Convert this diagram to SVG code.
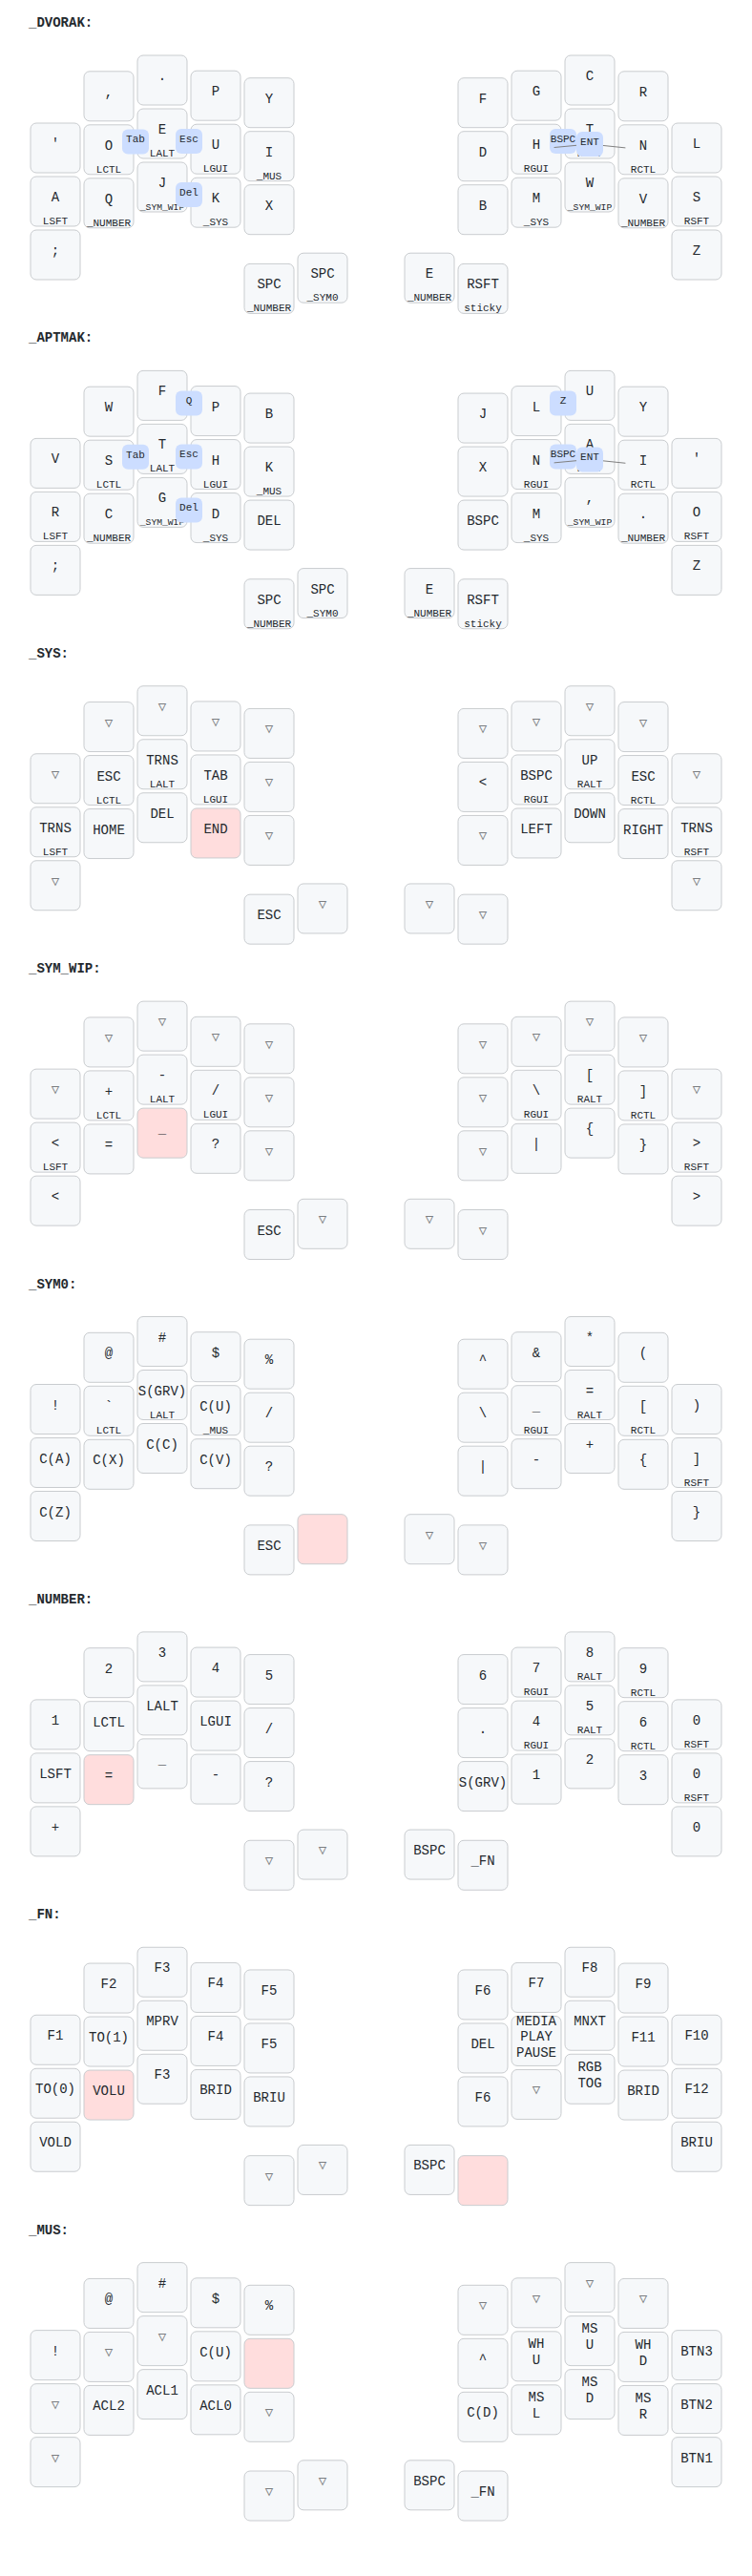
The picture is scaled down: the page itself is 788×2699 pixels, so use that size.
<svg xmlns="http://www.w3.org/2000/svg" xmlns:xlink="http://www.w3.org/1999/xlink" width="788" height="2699" viewBox="0 0 788 2699">
<style>
text{font-family:"Liberation Mono","DejaVu Sans Mono",monospace;font-size:14px;fill:#24292e;text-anchor:middle}
.key{fill:#f6f8fa;stroke:#c9cccf;stroke-width:1}
.held{fill:#fdd}
.h{font-size:11px}
.sh{font-size:9.68px}
.t{fill:#7b7e81}
.cb{fill:#cdf}
.ct{font-size:11px}
.lbl{font-weight:bold;text-anchor:start}
.den{stroke:gray;stroke-width:1;fill:none}
</style>
<defs>
<rect id="k" class="key" width="52" height="52" rx="6" ry="6"/>
<rect id="kh" class="key held" width="52" height="52" rx="6" ry="6"/>
<rect id="cbx" class="cb" width="28" height="26" rx="6" ry="6"/>
</defs>
<rect width="788" height="2699" fill="#fff"/>

<g id="layer-dvorak">
<text class="lbl" x="30" y="28">_DVORAK:</text>
<g id="dv-c0r0"><use href="#k" x="32" y="129"/><text x="58" y="155">'</text></g>
<g id="dv-c0r1"><use href="#k" x="32" y="185"/><text x="58" y="211">A</text><text class="h" x="58" y="235">LSFT</text></g>
<g id="dv-c0r2"><use href="#k" x="32" y="241"/><text x="58" y="267">;</text></g>
<g id="dv-c1r0"><use href="#k" x="88" y="74.8"/><text x="114" y="100.8">,</text></g>
<g id="dv-c1r1"><use href="#k" x="88" y="130.8"/><text x="114" y="156.8">O</text><text class="h" x="114" y="180.8">LCTL</text></g>
<g id="dv-c1r2"><use href="#k" x="88" y="186.8"/><text x="114" y="212.8">Q</text><text class="h" x="114" y="236.8">_NUMBER</text></g>
<g id="dv-c2r0"><use href="#k" x="144" y="58"/><text x="170" y="84">.</text></g>
<g id="dv-c2r1"><use href="#k" x="144" y="114"/><text x="170" y="140">E</text><text class="h" x="170" y="164">LALT</text></g>
<g id="dv-c2r2"><use href="#k" x="144" y="170"/><text x="170" y="196">J</text><text class="h sh" x="170" y="220">_SYM_WIP</text></g>
<g id="dv-c3r0"><use href="#k" x="200" y="74.2"/><text x="226" y="100.2">P</text></g>
<g id="dv-c3r1"><use href="#k" x="200" y="130.2"/><text x="226" y="156.2">U</text><text class="h" x="226" y="180.2">LGUI</text></g>
<g id="dv-c3r2"><use href="#k" x="200" y="186.2"/><text x="226" y="212.2">K</text><text class="h" x="226" y="236.2">_SYS</text></g>
<g id="dv-c4r0"><use href="#k" x="256" y="81.7"/><text x="282" y="107.7">Y</text></g>
<g id="dv-c4r1"><use href="#k" x="256" y="137.7"/><text x="282" y="163.7">I</text><text class="h" x="282" y="187.7">_MUS</text></g>
<g id="dv-c4r2"><use href="#k" x="256" y="193.7"/><text x="282" y="219.7">X</text></g>
<g id="dv-t0"><use href="#k" x="256" y="276.4"/><text x="282" y="302.4">SPC</text><text class="h" x="282" y="326.4">_NUMBER</text></g>
<g id="dv-t1"><use href="#k" x="312" y="265.2"/><text x="338" y="291.2">SPC</text><text class="h" x="338" y="315.2">_SYM0</text></g>
<g id="dv-t2"><use href="#k" x="424" y="265.2"/><text x="450" y="291.2">E</text><text class="h" x="450" y="315.2">_NUMBER</text></g>
<g id="dv-t3"><use href="#k" x="480" y="276.4"/><text x="506" y="302.4">RSFT</text><text class="h" x="506" y="326.4">sticky</text></g>
<g id="dv-c5r0"><use href="#k" x="480" y="81.7"/><text x="506" y="107.7">F</text></g>
<g id="dv-c5r1"><use href="#k" x="480" y="137.7"/><text x="506" y="163.7">D</text></g>
<g id="dv-c5r2"><use href="#k" x="480" y="193.7"/><text x="506" y="219.7">B</text></g>
<g id="dv-c6r0"><use href="#k" x="536" y="74.2"/><text x="562" y="100.2">G</text></g>
<g id="dv-c6r1"><use href="#k" x="536" y="130.2"/><text x="562" y="156.2">H</text><text class="h" x="562" y="180.2">RGUI</text></g>
<g id="dv-c6r2"><use href="#k" x="536" y="186.2"/><text x="562" y="212.2">M</text><text class="h" x="562" y="236.2">_SYS</text></g>
<g id="dv-c7r0"><use href="#k" x="592" y="58"/><text x="618" y="84">C</text></g>
<g id="dv-c7r1"><use href="#k" x="592" y="114"/><text x="618" y="140">T</text><text class="h" x="618" y="164">RALT</text></g>
<g id="dv-c7r2"><use href="#k" x="592" y="170"/><text x="618" y="196">W</text><text class="h sh" x="618" y="220">_SYM_WIP</text></g>
<g id="dv-c8r0"><use href="#k" x="648" y="74.8"/><text x="674" y="100.8">R</text></g>
<g id="dv-c8r1"><use href="#k" x="648" y="130.8"/><text x="674" y="156.8">N</text><text class="h" x="674" y="180.8">RCTL</text></g>
<g id="dv-c8r2"><use href="#k" x="648" y="186.8"/><text x="674" y="212.8">V</text><text class="h" x="674" y="236.8">_NUMBER</text></g>
<g id="dv-c9r0"><use href="#k" x="704" y="129"/><text x="730" y="155">L</text></g>
<g id="dv-c9r1"><use href="#k" x="704" y="185"/><text x="730" y="211">S</text><text class="h" x="730" y="235">RSFT</text></g>
<g id="dv-c9r2"><use href="#k" x="704" y="241"/><text x="730" y="267">Z</text></g>
<g id="dv-combo-tab"><use href="#cbx" x="128" y="135.4"/><text class="ct" x="142" y="149.4">Tab</text></g>
<g id="dv-combo-esc"><use href="#cbx" x="184" y="135.1"/><text class="ct" x="198" y="149.1">Esc</text></g>
<g id="dv-combo-del"><use href="#cbx" x="184" y="191.1"/><text class="ct" x="198" y="205.1">Del</text></g>
<g id="dv-combo-bspc"><use href="#cbx" x="576" y="135.1"/><text class="ct" x="590" y="149.1">BSPC</text></g>
<g id="dv-connectors"><path class="den" d="M618,151L580.6,154.5"/><path class="den" d="M618,151L655.4,154.9"/></g>
<g id="dv-combo-ent"><use href="#cbx" x="604" y="138"/><text class="ct" x="618" y="152">ENT</text></g>
</g>

<g id="layer-aptmak" transform="translate(0,330.375)">
<text class="lbl" x="30" y="28">_APTMAK:</text>
<g id="ap-c0r0"><use href="#k" x="32" y="129"/><text x="58" y="155">V</text></g>
<g id="ap-c0r1"><use href="#k" x="32" y="185"/><text x="58" y="211">R</text><text class="h" x="58" y="235">LSFT</text></g>
<g id="ap-c0r2"><use href="#k" x="32" y="241"/><text x="58" y="267">;</text></g>
<g id="ap-c1r0"><use href="#k" x="88" y="74.8"/><text x="114" y="100.8">W</text></g>
<g id="ap-c1r1"><use href="#k" x="88" y="130.8"/><text x="114" y="156.8">S</text><text class="h" x="114" y="180.8">LCTL</text></g>
<g id="ap-c1r2"><use href="#k" x="88" y="186.8"/><text x="114" y="212.8">C</text><text class="h" x="114" y="236.8">_NUMBER</text></g>
<g id="ap-c2r0"><use href="#k" x="144" y="58"/><text x="170" y="84">F</text></g>
<g id="ap-c2r1"><use href="#k" x="144" y="114"/><text x="170" y="140">T</text><text class="h" x="170" y="164">LALT</text></g>
<g id="ap-c2r2"><use href="#k" x="144" y="170"/><text x="170" y="196">G</text><text class="h sh" x="170" y="220">_SYM_WIP</text></g>
<g id="ap-c3r0"><use href="#k" x="200" y="74.2"/><text x="226" y="100.2">P</text></g>
<g id="ap-c3r1"><use href="#k" x="200" y="130.2"/><text x="226" y="156.2">H</text><text class="h" x="226" y="180.2">LGUI</text></g>
<g id="ap-c3r2"><use href="#k" x="200" y="186.2"/><text x="226" y="212.2">D</text><text class="h" x="226" y="236.2">_SYS</text></g>
<g id="ap-c4r0"><use href="#k" x="256" y="81.7"/><text x="282" y="107.7">B</text></g>
<g id="ap-c4r1"><use href="#k" x="256" y="137.7"/><text x="282" y="163.7">K</text><text class="h" x="282" y="187.7">_MUS</text></g>
<g id="ap-c4r2"><use href="#k" x="256" y="193.7"/><text x="282" y="219.7">DEL</text></g>
<g id="ap-t0"><use href="#k" x="256" y="276.4"/><text x="282" y="302.4">SPC</text><text class="h" x="282" y="326.4">_NUMBER</text></g>
<g id="ap-t1"><use href="#k" x="312" y="265.2"/><text x="338" y="291.2">SPC</text><text class="h" x="338" y="315.2">_SYM0</text></g>
<g id="ap-t2"><use href="#k" x="424" y="265.2"/><text x="450" y="291.2">E</text><text class="h" x="450" y="315.2">_NUMBER</text></g>
<g id="ap-t3"><use href="#k" x="480" y="276.4"/><text x="506" y="302.4">RSFT</text><text class="h" x="506" y="326.4">sticky</text></g>
<g id="ap-c5r0"><use href="#k" x="480" y="81.7"/><text x="506" y="107.7">J</text></g>
<g id="ap-c5r1"><use href="#k" x="480" y="137.7"/><text x="506" y="163.7">X</text></g>
<g id="ap-c5r2"><use href="#k" x="480" y="193.7"/><text x="506" y="219.7">BSPC</text></g>
<g id="ap-c6r0"><use href="#k" x="536" y="74.2"/><text x="562" y="100.2">L</text></g>
<g id="ap-c6r1"><use href="#k" x="536" y="130.2"/><text x="562" y="156.2">N</text><text class="h" x="562" y="180.2">RGUI</text></g>
<g id="ap-c6r2"><use href="#k" x="536" y="186.2"/><text x="562" y="212.2">M</text><text class="h" x="562" y="236.2">_SYS</text></g>
<g id="ap-c7r0"><use href="#k" x="592" y="58"/><text x="618" y="84">U</text></g>
<g id="ap-c7r1"><use href="#k" x="592" y="114"/><text x="618" y="140">A</text><text class="h" x="618" y="164">RALT</text></g>
<g id="ap-c7r2"><use href="#k" x="592" y="170"/><text x="618" y="196">,</text><text class="h sh" x="618" y="220">_SYM_WIP</text></g>
<g id="ap-c8r0"><use href="#k" x="648" y="74.8"/><text x="674" y="100.8">Y</text></g>
<g id="ap-c8r1"><use href="#k" x="648" y="130.8"/><text x="674" y="156.8">I</text><text class="h" x="674" y="180.8">RCTL</text></g>
<g id="ap-c8r2"><use href="#k" x="648" y="186.8"/><text x="674" y="212.8">.</text><text class="h" x="674" y="236.8">_NUMBER</text></g>
<g id="ap-c9r0"><use href="#k" x="704" y="129"/><text x="730" y="155">'</text></g>
<g id="ap-c9r1"><use href="#k" x="704" y="185"/><text x="730" y="211">O</text><text class="h" x="730" y="235">RSFT</text></g>
<g id="ap-c9r2"><use href="#k" x="704" y="241"/><text x="730" y="267">Z</text></g>
<g id="ap-combo-q"><use href="#cbx" x="184" y="79.1"/><text class="ct" x="198" y="93.1">Q</text></g>
<g id="ap-combo-tab"><use href="#cbx" x="128" y="135.4"/><text class="ct" x="142" y="149.4">Tab</text></g>
<g id="ap-combo-esc"><use href="#cbx" x="184" y="135.1"/><text class="ct" x="198" y="149.1">Esc</text></g>
<g id="ap-combo-del"><use href="#cbx" x="184" y="191.1"/><text class="ct" x="198" y="205.1">Del</text></g>
<g id="ap-combo-z"><use href="#cbx" x="576" y="79.1"/><text class="ct" x="590" y="93.1">Z</text></g>
<g id="ap-combo-bspc"><use href="#cbx" x="576" y="135.1"/><text class="ct" x="590" y="149.1">BSPC</text></g>
<g id="ap-connectors"><path class="den" d="M618,151L580.6,154.5"/><path class="den" d="M618,151L655.4,154.9"/></g>
<g id="ap-combo-ent"><use href="#cbx" x="604" y="138"/><text class="ct" x="618" y="152">ENT</text></g>
</g>

<g id="layer-sys" transform="translate(0,660.75)">
<text class="lbl" x="30" y="28">_SYS:</text>
<g id="sy-c0r0"><use href="#k" x="32" y="129"/><text class="t" x="58" y="155">▽</text></g>
<g id="sy-c0r1"><use href="#k" x="32" y="185"/><text x="58" y="211">TRNS</text><text class="h" x="58" y="235">LSFT</text></g>
<g id="sy-c0r2"><use href="#k" x="32" y="241"/><text class="t" x="58" y="267">▽</text></g>
<g id="sy-c1r0"><use href="#k" x="88" y="74.8"/><text class="t" x="114" y="100.8">▽</text></g>
<g id="sy-c1r1"><use href="#k" x="88" y="130.8"/><text x="114" y="156.8">ESC</text><text class="h" x="114" y="180.8">LCTL</text></g>
<g id="sy-c1r2"><use href="#k" x="88" y="186.8"/><text x="114" y="212.8">HOME</text></g>
<g id="sy-c2r0"><use href="#k" x="144" y="58"/><text class="t" x="170" y="84">▽</text></g>
<g id="sy-c2r1"><use href="#k" x="144" y="114"/><text x="170" y="140">TRNS</text><text class="h" x="170" y="164">LALT</text></g>
<g id="sy-c2r2"><use href="#k" x="144" y="170"/><text x="170" y="196">DEL</text></g>
<g id="sy-c3r0"><use href="#k" x="200" y="74.2"/><text class="t" x="226" y="100.2">▽</text></g>
<g id="sy-c3r1"><use href="#k" x="200" y="130.2"/><text x="226" y="156.2">TAB</text><text class="h" x="226" y="180.2">LGUI</text></g>
<g id="sy-c3r2"><use href="#kh" x="200" y="186.2"/><text x="226" y="212.2">END</text></g>
<g id="sy-c4r0"><use href="#k" x="256" y="81.7"/><text class="t" x="282" y="107.7">▽</text></g>
<g id="sy-c4r1"><use href="#k" x="256" y="137.7"/><text class="t" x="282" y="163.7">▽</text></g>
<g id="sy-c4r2"><use href="#k" x="256" y="193.7"/><text class="t" x="282" y="219.7">▽</text></g>
<g id="sy-t0"><use href="#k" x="256" y="276.4"/><text x="282" y="302.4">ESC</text></g>
<g id="sy-t1"><use href="#k" x="312" y="265.2"/><text class="t" x="338" y="291.2">▽</text></g>
<g id="sy-t2"><use href="#k" x="424" y="265.2"/><text class="t" x="450" y="291.2">▽</text></g>
<g id="sy-t3"><use href="#k" x="480" y="276.4"/><text class="t" x="506" y="302.4">▽</text></g>
<g id="sy-c5r0"><use href="#k" x="480" y="81.7"/><text class="t" x="506" y="107.7">▽</text></g>
<g id="sy-c5r1"><use href="#k" x="480" y="137.7"/><text x="506" y="163.7">&lt;</text></g>
<g id="sy-c5r2"><use href="#k" x="480" y="193.7"/><text class="t" x="506" y="219.7">▽</text></g>
<g id="sy-c6r0"><use href="#k" x="536" y="74.2"/><text class="t" x="562" y="100.2">▽</text></g>
<g id="sy-c6r1"><use href="#k" x="536" y="130.2"/><text x="562" y="156.2">BSPC</text><text class="h" x="562" y="180.2">RGUI</text></g>
<g id="sy-c6r2"><use href="#k" x="536" y="186.2"/><text x="562" y="212.2">LEFT</text></g>
<g id="sy-c7r0"><use href="#k" x="592" y="58"/><text class="t" x="618" y="84">▽</text></g>
<g id="sy-c7r1"><use href="#k" x="592" y="114"/><text x="618" y="140">UP</text><text class="h" x="618" y="164">RALT</text></g>
<g id="sy-c7r2"><use href="#k" x="592" y="170"/><text x="618" y="196">DOWN</text></g>
<g id="sy-c8r0"><use href="#k" x="648" y="74.8"/><text class="t" x="674" y="100.8">▽</text></g>
<g id="sy-c8r1"><use href="#k" x="648" y="130.8"/><text x="674" y="156.8">ESC</text><text class="h" x="674" y="180.8">RCTL</text></g>
<g id="sy-c8r2"><use href="#k" x="648" y="186.8"/><text x="674" y="212.8">RIGHT</text></g>
<g id="sy-c9r0"><use href="#k" x="704" y="129"/><text class="t" x="730" y="155">▽</text></g>
<g id="sy-c9r1"><use href="#k" x="704" y="185"/><text x="730" y="211">TRNS</text><text class="h" x="730" y="235">RSFT</text></g>
<g id="sy-c9r2"><use href="#k" x="704" y="241"/><text class="t" x="730" y="267">▽</text></g>
</g>

<g id="layer-sym-wip" transform="translate(0,991.125)">
<text class="lbl" x="30" y="28">_SYM_WIP:</text>
<g id="sw-c0r0"><use href="#k" x="32" y="129"/><text class="t" x="58" y="155">▽</text></g>
<g id="sw-c0r1"><use href="#k" x="32" y="185"/><text x="58" y="211">&lt;</text><text class="h" x="58" y="235">LSFT</text></g>
<g id="sw-c0r2"><use href="#k" x="32" y="241"/><text x="58" y="267">&lt;</text></g>
<g id="sw-c1r0"><use href="#k" x="88" y="74.8"/><text class="t" x="114" y="100.8">▽</text></g>
<g id="sw-c1r1"><use href="#k" x="88" y="130.8"/><text x="114" y="156.8">+</text><text class="h" x="114" y="180.8">LCTL</text></g>
<g id="sw-c1r2"><use href="#k" x="88" y="186.8"/><text x="114" y="212.8">=</text></g>
<g id="sw-c2r0"><use href="#k" x="144" y="58"/><text class="t" x="170" y="84">▽</text></g>
<g id="sw-c2r1"><use href="#k" x="144" y="114"/><text x="170" y="140">-</text><text class="h" x="170" y="164">LALT</text></g>
<g id="sw-c2r2"><use href="#kh" x="144" y="170"/><text x="170" y="196">_</text></g>
<g id="sw-c3r0"><use href="#k" x="200" y="74.2"/><text class="t" x="226" y="100.2">▽</text></g>
<g id="sw-c3r1"><use href="#k" x="200" y="130.2"/><text x="226" y="156.2">/</text><text class="h" x="226" y="180.2">LGUI</text></g>
<g id="sw-c3r2"><use href="#k" x="200" y="186.2"/><text x="226" y="212.2">?</text></g>
<g id="sw-c4r0"><use href="#k" x="256" y="81.7"/><text class="t" x="282" y="107.7">▽</text></g>
<g id="sw-c4r1"><use href="#k" x="256" y="137.7"/><text class="t" x="282" y="163.7">▽</text></g>
<g id="sw-c4r2"><use href="#k" x="256" y="193.7"/><text class="t" x="282" y="219.7">▽</text></g>
<g id="sw-t0"><use href="#k" x="256" y="276.4"/><text x="282" y="302.4">ESC</text></g>
<g id="sw-t1"><use href="#k" x="312" y="265.2"/><text class="t" x="338" y="291.2">▽</text></g>
<g id="sw-t2"><use href="#k" x="424" y="265.2"/><text class="t" x="450" y="291.2">▽</text></g>
<g id="sw-t3"><use href="#k" x="480" y="276.4"/><text class="t" x="506" y="302.4">▽</text></g>
<g id="sw-c5r0"><use href="#k" x="480" y="81.7"/><text class="t" x="506" y="107.7">▽</text></g>
<g id="sw-c5r1"><use href="#k" x="480" y="137.7"/><text class="t" x="506" y="163.7">▽</text></g>
<g id="sw-c5r2"><use href="#k" x="480" y="193.7"/><text class="t" x="506" y="219.7">▽</text></g>
<g id="sw-c6r0"><use href="#k" x="536" y="74.2"/><text class="t" x="562" y="100.2">▽</text></g>
<g id="sw-c6r1"><use href="#k" x="536" y="130.2"/><text x="562" y="156.2">\</text><text class="h" x="562" y="180.2">RGUI</text></g>
<g id="sw-c6r2"><use href="#k" x="536" y="186.2"/><text x="562" y="212.2">|</text></g>
<g id="sw-c7r0"><use href="#k" x="592" y="58"/><text class="t" x="618" y="84">▽</text></g>
<g id="sw-c7r1"><use href="#k" x="592" y="114"/><text x="618" y="140">[</text><text class="h" x="618" y="164">RALT</text></g>
<g id="sw-c7r2"><use href="#k" x="592" y="170"/><text x="618" y="196">{</text></g>
<g id="sw-c8r0"><use href="#k" x="648" y="74.8"/><text class="t" x="674" y="100.8">▽</text></g>
<g id="sw-c8r1"><use href="#k" x="648" y="130.8"/><text x="674" y="156.8">]</text><text class="h" x="674" y="180.8">RCTL</text></g>
<g id="sw-c8r2"><use href="#k" x="648" y="186.8"/><text x="674" y="212.8">}</text></g>
<g id="sw-c9r0"><use href="#k" x="704" y="129"/><text class="t" x="730" y="155">▽</text></g>
<g id="sw-c9r1"><use href="#k" x="704" y="185"/><text x="730" y="211">&gt;</text><text class="h" x="730" y="235">RSFT</text></g>
<g id="sw-c9r2"><use href="#k" x="704" y="241"/><text x="730" y="267">&gt;</text></g>
</g>

<g id="layer-sym0" transform="translate(0,1321.5)">
<text class="lbl" x="30" y="28">_SYM0:</text>
<g id="s0-c0r0"><use href="#k" x="32" y="129"/><text x="58" y="155">!</text></g>
<g id="s0-c0r1"><use href="#k" x="32" y="185"/><text x="58" y="211">C(A)</text></g>
<g id="s0-c0r2"><use href="#k" x="32" y="241"/><text x="58" y="267">C(Z)</text></g>
<g id="s0-c1r0"><use href="#k" x="88" y="74.8"/><text x="114" y="100.8">@</text></g>
<g id="s0-c1r1"><use href="#k" x="88" y="130.8"/><text x="114" y="156.8">`</text><text class="h" x="114" y="180.8">LCTL</text></g>
<g id="s0-c1r2"><use href="#k" x="88" y="186.8"/><text x="114" y="212.8">C(X)</text></g>
<g id="s0-c2r0"><use href="#k" x="144" y="58"/><text x="170" y="84">#</text></g>
<g id="s0-c2r1"><use href="#k" x="144" y="114"/><text x="170" y="140">S(GRV)</text><text class="h" x="170" y="164">LALT</text></g>
<g id="s0-c2r2"><use href="#k" x="144" y="170"/><text x="170" y="196">C(C)</text></g>
<g id="s0-c3r0"><use href="#k" x="200" y="74.2"/><text x="226" y="100.2">$</text></g>
<g id="s0-c3r1"><use href="#k" x="200" y="130.2"/><text x="226" y="156.2">C(U)</text><text class="h" x="226" y="180.2">_MUS</text></g>
<g id="s0-c3r2"><use href="#k" x="200" y="186.2"/><text x="226" y="212.2">C(V)</text></g>
<g id="s0-c4r0"><use href="#k" x="256" y="81.7"/><text x="282" y="107.7">%</text></g>
<g id="s0-c4r1"><use href="#k" x="256" y="137.7"/><text x="282" y="163.7">/</text></g>
<g id="s0-c4r2"><use href="#k" x="256" y="193.7"/><text x="282" y="219.7">?</text></g>
<g id="s0-t0"><use href="#k" x="256" y="276.4"/><text x="282" y="302.4">ESC</text></g>
<g id="s0-t1"><use href="#kh" x="312" y="265.2"/></g>
<g id="s0-t2"><use href="#k" x="424" y="265.2"/><text class="t" x="450" y="291.2">▽</text></g>
<g id="s0-t3"><use href="#k" x="480" y="276.4"/><text class="t" x="506" y="302.4">▽</text></g>
<g id="s0-c5r0"><use href="#k" x="480" y="81.7"/><text x="506" y="107.7">^</text></g>
<g id="s0-c5r1"><use href="#k" x="480" y="137.7"/><text x="506" y="163.7">\</text></g>
<g id="s0-c5r2"><use href="#k" x="480" y="193.7"/><text x="506" y="219.7">|</text></g>
<g id="s0-c6r0"><use href="#k" x="536" y="74.2"/><text x="562" y="100.2">&amp;</text></g>
<g id="s0-c6r1"><use href="#k" x="536" y="130.2"/><text x="562" y="156.2">_</text><text class="h" x="562" y="180.2">RGUI</text></g>
<g id="s0-c6r2"><use href="#k" x="536" y="186.2"/><text x="562" y="212.2">-</text></g>
<g id="s0-c7r0"><use href="#k" x="592" y="58"/><text x="618" y="84">*</text></g>
<g id="s0-c7r1"><use href="#k" x="592" y="114"/><text x="618" y="140">=</text><text class="h" x="618" y="164">RALT</text></g>
<g id="s0-c7r2"><use href="#k" x="592" y="170"/><text x="618" y="196">+</text></g>
<g id="s0-c8r0"><use href="#k" x="648" y="74.8"/><text x="674" y="100.8">(</text></g>
<g id="s0-c8r1"><use href="#k" x="648" y="130.8"/><text x="674" y="156.8">[</text><text class="h" x="674" y="180.8">RCTL</text></g>
<g id="s0-c8r2"><use href="#k" x="648" y="186.8"/><text x="674" y="212.8">{</text></g>
<g id="s0-c9r0"><use href="#k" x="704" y="129"/><text x="730" y="155">)</text></g>
<g id="s0-c9r1"><use href="#k" x="704" y="185"/><text x="730" y="211">]</text><text class="h" x="730" y="235">RSFT</text></g>
<g id="s0-c9r2"><use href="#k" x="704" y="241"/><text x="730" y="267">}</text></g>
</g>

<g id="layer-number" transform="translate(0,1651.875)">
<text class="lbl" x="30" y="28">_NUMBER:</text>
<g id="nu-c0r0"><use href="#k" x="32" y="129"/><text x="58" y="155">1</text></g>
<g id="nu-c0r1"><use href="#k" x="32" y="185"/><text x="58" y="211">LSFT</text></g>
<g id="nu-c0r2"><use href="#k" x="32" y="241"/><text x="58" y="267">+</text></g>
<g id="nu-c1r0"><use href="#k" x="88" y="74.8"/><text x="114" y="100.8">2</text></g>
<g id="nu-c1r1"><use href="#k" x="88" y="130.8"/><text x="114" y="156.8">LCTL</text></g>
<g id="nu-c1r2"><use href="#kh" x="88" y="186.8"/><text x="114" y="212.8">=</text></g>
<g id="nu-c2r0"><use href="#k" x="144" y="58"/><text x="170" y="84">3</text></g>
<g id="nu-c2r1"><use href="#k" x="144" y="114"/><text x="170" y="140">LALT</text></g>
<g id="nu-c2r2"><use href="#k" x="144" y="170"/><text x="170" y="196">_</text></g>
<g id="nu-c3r0"><use href="#k" x="200" y="74.2"/><text x="226" y="100.2">4</text></g>
<g id="nu-c3r1"><use href="#k" x="200" y="130.2"/><text x="226" y="156.2">LGUI</text></g>
<g id="nu-c3r2"><use href="#k" x="200" y="186.2"/><text x="226" y="212.2">-</text></g>
<g id="nu-c4r0"><use href="#k" x="256" y="81.7"/><text x="282" y="107.7">5</text></g>
<g id="nu-c4r1"><use href="#k" x="256" y="137.7"/><text x="282" y="163.7">/</text></g>
<g id="nu-c4r2"><use href="#k" x="256" y="193.7"/><text x="282" y="219.7">?</text></g>
<g id="nu-t0"><use href="#k" x="256" y="276.4"/><text class="t" x="282" y="302.4">▽</text></g>
<g id="nu-t1"><use href="#k" x="312" y="265.2"/><text class="t" x="338" y="291.2">▽</text></g>
<g id="nu-t2"><use href="#k" x="424" y="265.2"/><text x="450" y="291.2">BSPC</text></g>
<g id="nu-t3"><use href="#k" x="480" y="276.4"/><text x="506" y="302.4">_FN</text></g>
<g id="nu-c5r0"><use href="#k" x="480" y="81.7"/><text x="506" y="107.7">6</text></g>
<g id="nu-c5r1"><use href="#k" x="480" y="137.7"/><text x="506" y="163.7">.</text></g>
<g id="nu-c5r2"><use href="#k" x="480" y="193.7"/><text x="506" y="219.7">S(GRV)</text></g>
<g id="nu-c6r0"><use href="#k" x="536" y="74.2"/><text x="562" y="100.2">7</text><text class="h" x="562" y="124.2">RGUI</text></g>
<g id="nu-c6r1"><use href="#k" x="536" y="130.2"/><text x="562" y="156.2">4</text><text class="h" x="562" y="180.2">RGUI</text></g>
<g id="nu-c6r2"><use href="#k" x="536" y="186.2"/><text x="562" y="212.2">1</text></g>
<g id="nu-c7r0"><use href="#k" x="592" y="58"/><text x="618" y="84">8</text><text class="h" x="618" y="108">RALT</text></g>
<g id="nu-c7r1"><use href="#k" x="592" y="114"/><text x="618" y="140">5</text><text class="h" x="618" y="164">RALT</text></g>
<g id="nu-c7r2"><use href="#k" x="592" y="170"/><text x="618" y="196">2</text></g>
<g id="nu-c8r0"><use href="#k" x="648" y="74.8"/><text x="674" y="100.8">9</text><text class="h" x="674" y="124.8">RCTL</text></g>
<g id="nu-c8r1"><use href="#k" x="648" y="130.8"/><text x="674" y="156.8">6</text><text class="h" x="674" y="180.8">RCTL</text></g>
<g id="nu-c8r2"><use href="#k" x="648" y="186.8"/><text x="674" y="212.8">3</text></g>
<g id="nu-c9r0"><use href="#k" x="704" y="129"/><text x="730" y="155">0</text><text class="h" x="730" y="179">RSFT</text></g>
<g id="nu-c9r1"><use href="#k" x="704" y="185"/><text x="730" y="211">0</text><text class="h" x="730" y="235">RSFT</text></g>
<g id="nu-c9r2"><use href="#k" x="704" y="241"/><text x="730" y="267">0</text></g>
</g>

<g id="layer-fn" transform="translate(0,1982.25)">
<text class="lbl" x="30" y="28">_FN:</text>
<g id="fn-c0r0"><use href="#k" x="32" y="129"/><text x="58" y="155">F1</text></g>
<g id="fn-c0r1"><use href="#k" x="32" y="185"/><text x="58" y="211">TO(0)</text></g>
<g id="fn-c0r2"><use href="#k" x="32" y="241"/><text x="58" y="267">VOLD</text></g>
<g id="fn-c1r0"><use href="#k" x="88" y="74.8"/><text x="114" y="100.8">F2</text></g>
<g id="fn-c1r1"><use href="#k" x="88" y="130.8"/><text x="114" y="156.8">TO(1)</text></g>
<g id="fn-c1r2"><use href="#kh" x="88" y="186.8"/><text x="114" y="212.8">VOLU</text></g>
<g id="fn-c2r0"><use href="#k" x="144" y="58"/><text x="170" y="84">F3</text></g>
<g id="fn-c2r1"><use href="#k" x="144" y="114"/><text x="170" y="140">MPRV</text></g>
<g id="fn-c2r2"><use href="#k" x="144" y="170"/><text x="170" y="196">F3</text></g>
<g id="fn-c3r0"><use href="#k" x="200" y="74.2"/><text x="226" y="100.2">F4</text></g>
<g id="fn-c3r1"><use href="#k" x="200" y="130.2"/><text x="226" y="156.2">F4</text></g>
<g id="fn-c3r2"><use href="#k" x="200" y="186.2"/><text x="226" y="212.2">BRID</text></g>
<g id="fn-c4r0"><use href="#k" x="256" y="81.7"/><text x="282" y="107.7">F5</text></g>
<g id="fn-c4r1"><use href="#k" x="256" y="137.7"/><text x="282" y="163.7">F5</text></g>
<g id="fn-c4r2"><use href="#k" x="256" y="193.7"/><text x="282" y="219.7">BRIU</text></g>
<g id="fn-t0"><use href="#k" x="256" y="276.4"/><text class="t" x="282" y="302.4">▽</text></g>
<g id="fn-t1"><use href="#k" x="312" y="265.2"/><text class="t" x="338" y="291.2">▽</text></g>
<g id="fn-t2"><use href="#k" x="424" y="265.2"/><text x="450" y="291.2">BSPC</text></g>
<g id="fn-t3"><use href="#kh" x="480" y="276.4"/></g>
<g id="fn-c5r0"><use href="#k" x="480" y="81.7"/><text x="506" y="107.7">F6</text></g>
<g id="fn-c5r1"><use href="#k" x="480" y="137.7"/><text x="506" y="163.7">DEL</text></g>
<g id="fn-c5r2"><use href="#k" x="480" y="193.7"/><text x="506" y="219.7">F6</text></g>
<g id="fn-c6r0"><use href="#k" x="536" y="74.2"/><text x="562" y="100.2">F7</text></g>
<g id="fn-c6r1"><use href="#k" x="536" y="130.2"/><text x="562" y="139.4">MEDIA</text><text x="562" y="156.2">PLAY</text><text x="562" y="173">PAUSE</text></g>
<g id="fn-c6r2"><use href="#k" x="536" y="186.2"/><text class="t" x="562" y="212.2">▽</text></g>
<g id="fn-c7r0"><use href="#k" x="592" y="58"/><text x="618" y="84">F8</text></g>
<g id="fn-c7r1"><use href="#k" x="592" y="114"/><text x="618" y="140">MNXT</text></g>
<g id="fn-c7r2"><use href="#k" x="592" y="170"/><text x="618" y="187.6">RGB</text><text x="618" y="204.4">TOG</text></g>
<g id="fn-c8r0"><use href="#k" x="648" y="74.8"/><text x="674" y="100.8">F9</text></g>
<g id="fn-c8r1"><use href="#k" x="648" y="130.8"/><text x="674" y="156.8">F11</text></g>
<g id="fn-c8r2"><use href="#k" x="648" y="186.8"/><text x="674" y="212.8">BRID</text></g>
<g id="fn-c9r0"><use href="#k" x="704" y="129"/><text x="730" y="155">F10</text></g>
<g id="fn-c9r1"><use href="#k" x="704" y="185"/><text x="730" y="211">F12</text></g>
<g id="fn-c9r2"><use href="#k" x="704" y="241"/><text x="730" y="267">BRIU</text></g>
</g>

<g id="layer-mus" transform="translate(0,2312.625)">
<text class="lbl" x="30" y="28">_MUS:</text>
<g id="mu-c0r0"><use href="#k" x="32" y="129"/><text x="58" y="155">!</text></g>
<g id="mu-c0r1"><use href="#k" x="32" y="185"/><text class="t" x="58" y="211">▽</text></g>
<g id="mu-c0r2"><use href="#k" x="32" y="241"/><text class="t" x="58" y="267">▽</text></g>
<g id="mu-c1r0"><use href="#k" x="88" y="74.8"/><text x="114" y="100.8">@</text></g>
<g id="mu-c1r1"><use href="#k" x="88" y="130.8"/><text class="t" x="114" y="156.8">▽</text></g>
<g id="mu-c1r2"><use href="#k" x="88" y="186.8"/><text x="114" y="212.8">ACL2</text></g>
<g id="mu-c2r0"><use href="#k" x="144" y="58"/><text x="170" y="84">#</text></g>
<g id="mu-c2r1"><use href="#k" x="144" y="114"/><text class="t" x="170" y="140">▽</text></g>
<g id="mu-c2r2"><use href="#k" x="144" y="170"/><text x="170" y="196">ACL1</text></g>
<g id="mu-c3r0"><use href="#k" x="200" y="74.2"/><text x="226" y="100.2">$</text></g>
<g id="mu-c3r1"><use href="#k" x="200" y="130.2"/><text x="226" y="156.2">C(U)</text></g>
<g id="mu-c3r2"><use href="#k" x="200" y="186.2"/><text x="226" y="212.2">ACL0</text></g>
<g id="mu-c4r0"><use href="#k" x="256" y="81.7"/><text x="282" y="107.7">%</text></g>
<g id="mu-c4r1"><use href="#kh" x="256" y="137.7"/></g>
<g id="mu-c4r2"><use href="#k" x="256" y="193.7"/><text class="t" x="282" y="219.7">▽</text></g>
<g id="mu-t0"><use href="#k" x="256" y="276.4"/><text class="t" x="282" y="302.4">▽</text></g>
<g id="mu-t1"><use href="#k" x="312" y="265.2"/><text class="t" x="338" y="291.2">▽</text></g>
<g id="mu-t2"><use href="#k" x="424" y="265.2"/><text x="450" y="291.2">BSPC</text></g>
<g id="mu-t3"><use href="#k" x="480" y="276.4"/><text x="506" y="302.4">_FN</text></g>
<g id="mu-c5r0"><use href="#k" x="480" y="81.7"/><text class="t" x="506" y="107.7">▽</text></g>
<g id="mu-c5r1"><use href="#k" x="480" y="137.7"/><text x="506" y="163.7">^</text></g>
<g id="mu-c5r2"><use href="#k" x="480" y="193.7"/><text x="506" y="219.7">C(D)</text></g>
<g id="mu-c6r0"><use href="#k" x="536" y="74.2"/><text class="t" x="562" y="100.2">▽</text></g>
<g id="mu-c6r1"><use href="#k" x="536" y="130.2"/><text x="562" y="147.8">WH</text><text x="562" y="164.6">U</text></g>
<g id="mu-c6r2"><use href="#k" x="536" y="186.2"/><text x="562" y="203.8">MS</text><text x="562" y="220.6">L</text></g>
<g id="mu-c7r0"><use href="#k" x="592" y="58"/><text class="t" x="618" y="84">▽</text></g>
<g id="mu-c7r1"><use href="#k" x="592" y="114"/><text x="618" y="131.6">MS</text><text x="618" y="148.4">U</text></g>
<g id="mu-c7r2"><use href="#k" x="592" y="170"/><text x="618" y="187.6">MS</text><text x="618" y="204.4">D</text></g>
<g id="mu-c8r0"><use href="#k" x="648" y="74.8"/><text class="t" x="674" y="100.8">▽</text></g>
<g id="mu-c8r1"><use href="#k" x="648" y="130.8"/><text x="674" y="148.4">WH</text><text x="674" y="165.2">D</text></g>
<g id="mu-c8r2"><use href="#k" x="648" y="186.8"/><text x="674" y="204.4">MS</text><text x="674" y="221.2">R</text></g>
<g id="mu-c9r0"><use href="#k" x="704" y="129"/><text x="730" y="155">BTN3</text></g>
<g id="mu-c9r1"><use href="#k" x="704" y="185"/><text x="730" y="211">BTN2</text></g>
<g id="mu-c9r2"><use href="#k" x="704" y="241"/><text x="730" y="267">BTN1</text></g>
</g>
</svg>
